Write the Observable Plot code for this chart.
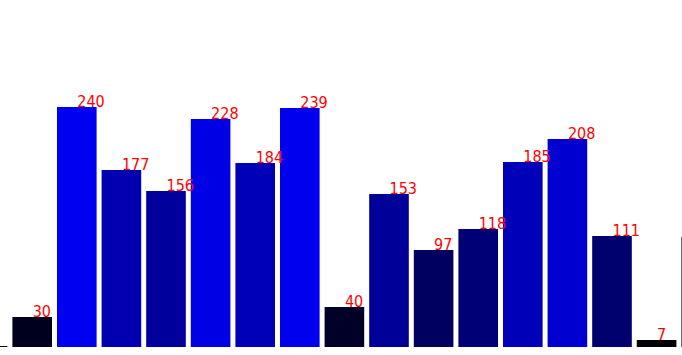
<!DOCTYPE html>
<html>
<head>
<meta charset="utf-8">
<script src="https://cdn.jsdelivr.net/npm/d3@7"></script>
<script src="https://cdn.jsdelivr.net/npm/@observablehq/plot@0.6"></script>
<style>
  html, body { margin: 0; padding: 0; background: white; overflow: hidden; }
  #chart svg { overflow: hidden; display: block; }
</style>
</head>
<body>
<div id="chart"></div>
<script>
// bar index (including partially visible bars at both edges)
const indices = [0, 1, 2, 3, 4, 5, 6, 7, 8, 9, 10, 11, 12, 13, 14, 15, 16];
// bar values
const values = [1, 30, 240, 177, 156, 228, 184, 239, 40, 153, 97, 118, 185, 208, 111, 7, 110];
// label texts (labels of the edge bars lie outside the visible area)
const labels = ["", "30", "240", "177", "156", "228", "184", "239", "40", "153", "97", "118", "185", "208", "111", "7", ""];

const data = indices.map((i, k) => ({i, v: values[k], label: labels[k]}));

const chart = Plot.plot({
  width: 682,
  height: 355,
  marginTop: 0, marginRight: 0, marginBottom: 0, marginLeft: 0,
  style: {background: "white", overflow: "hidden"},
  x: {type: "band", domain: indices, range: [-32.2, 721.0], paddingInner: 0.112, paddingOuter: 0, align: 0, round: false, axis: null},
  y: {domain: [0, 347], range: [347, 0], axis: null},
  marks: [
    Plot.barY(data, {x: "i", y: "v", fill: d => `rgb(0,0,${d.v})`}),
    Plot.text(data.filter(d => d.label !== ""), {
      x: "i", y: "v", text: "label",
      textAnchor: "start", lineAnchor: "bottom", dy: -0.5,
      fill: "red", fontSize: 16, fontFamily: "'DejaVu Sans Condensed', 'DejaVu Sans', sans-serif"
    })
  ]
});
document.getElementById("chart").appendChild(chart);
</script>
</body>
</html>
